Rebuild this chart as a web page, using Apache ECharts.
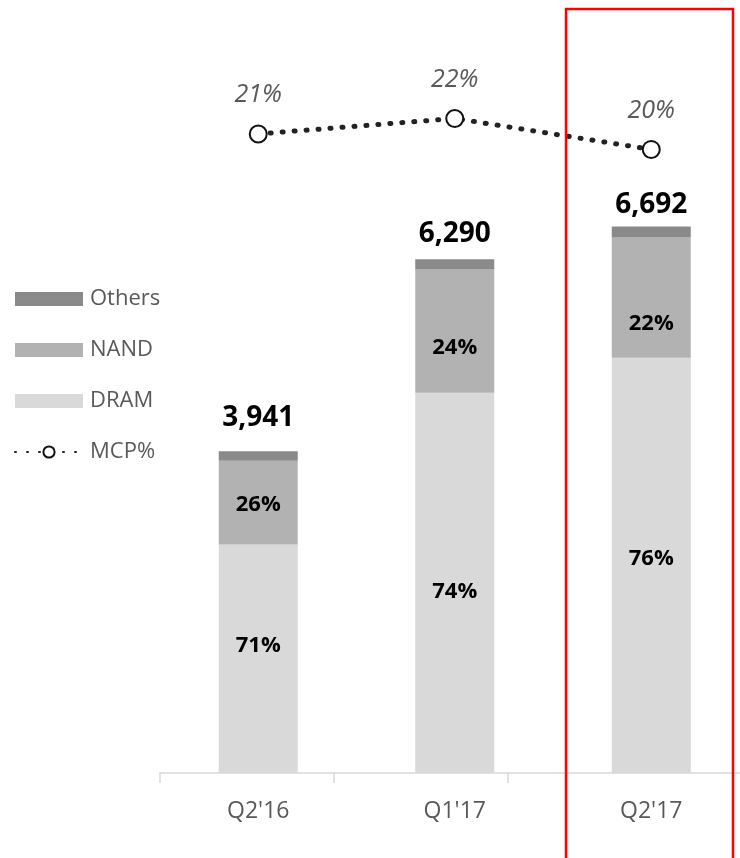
<!DOCTYPE html>
<html>
<head>
<meta charset="utf-8">
<script src="https://cdn.jsdelivr.net/npm/echarts@6/dist/echarts.min.js"></script>
<style>
html,body{margin:0;padding:0;background:#fff;}
#c{width:740px;height:858px;}
</style>
</head>
<body>
<div id="c"></div>
<script>
var categories = ["Q2'16", "Q1'17", "Q2'17"];
var dram = [2798, 4655, 5086];
var nand = [1025, 1510, 1472];
var others = [118, 125, 134];
var mcpShare = [21, 22, 20];

var totals = categories.map(function (c, i) { return dram[i] + nand[i] + others[i]; });
var font = "'Open Sans', 'Noto Sans', sans-serif";

var chart = echarts.init(document.getElementById('c'));
function pct(v, i) { return Math.round(v / totals[i] * 100) + '%'; }
var dramOffsets = [[0, -13], [0, 9], [0, -7]];
var nandOffsets = [[0, 2], [0, 17], [0, 26]];
var totalOffsets = [[0, -8], [0, 0], [0, 4]];

chart.setOption({
  animation: false,
  textStyle: { fontFamily: font },
  grid: { left: 160, top: 38, bottom: 85, width: 589.5, outerBoundsMode: 'none', containLabel: false },
  legend: {
    orient: 'vertical', left: 14, top: 288, padding: 0,
    itemWidth: 68, itemHeight: 14, itemGap: 29,
    data: [
      { name: 'Others', icon: 'rect' },
      { name: 'NAND', icon: 'rect' },
      { name: 'DRAM', icon: 'rect' },
      { name: 'MCP%' }
    ],
    textStyle: { fontFamily: font, fontSize: 22, color: '#595959', padding: [0, 0, 0, 2] }
  },
  xAxis: [{
    type: 'category', data: categories, position: 'bottom',
    axisLine: { lineStyle: { color: '#d9d9d9', width: 1.5 } },
    axisTick: { show: false },
    axisLabel: { fontFamily: font, fontSize: 23, color: '#595959', margin: 27 }
  }, {
    type: 'value', position: 'bottom', min: 0, max: 589.5 / 174, interval: 1,
    axisLine: { show: false, onZero: false },
    axisLabel: { show: false },
    splitLine: { show: false },
    axisTick: { show: true, length: 10, customValues: [0, 1, 2], lineStyle: { color: '#d9d9d9', width: 1.5 } }
  }],
  yAxis: [
    { type: 'value', min: 0, max: 9000, show: false, splitLine: { show: false } },
    { type: 'value', min: -20.3, max: 27.2, show: false, splitLine: { show: false } }
  ],
  series: [{
    name: 'DRAM', type: 'bar', stack: 'a', barWidth: 79,
    itemStyle: { color: '#d9d9d9' },
    data: dram.map(function (v, i) {
      return { value: v, label: { offset: dramOffsets[i] } };
    }),
    label: {
      show: true, position: 'inside', fontFamily: font, fontWeight: 'bold', fontSize: 22, color: '#000',
      formatter: function (p) { return pct(p.value, p.dataIndex); }
    }
  }, {
    name: 'NAND', type: 'bar', stack: 'a', barWidth: 79,
    itemStyle: { color: '#b2b2b2' },
    data: nand.map(function (v, i) {
      return { value: v, label: { offset: nandOffsets[i] } };
    }),
    label: {
      show: true, position: 'inside', fontFamily: font, fontWeight: 'bold', fontSize: 22, color: '#000',
      formatter: function (p) { return pct(p.value, p.dataIndex); }
    }
  }, {
    name: 'Others', type: 'bar', stack: 'a', barWidth: 79,
    itemStyle: { color: '#8a8a8a' },
    data: others.map(function (v, i) {
      return { value: v, label: { offset: totalOffsets[i] } };
    }),
    label: {
      show: true, position: 'top', distance: 11, fontFamily: font, fontWeight: 'bold', fontSize: 28, color: '#000',
      formatter: function (p) { return totals[p.dataIndex].toLocaleString('en-US'); }
    }
  }, {
    name: 'MCP%', type: 'line', yAxisIndex: 1,
    data: mcpShare,
    symbol: 'circle', symbolSize: 17,
    itemStyle: { color: '#fff', borderColor: '#111', borderWidth: 2 },
    lineStyle: { color: '#222', width: 5, type: [1, 11], cap: 'round' },
    label: {
      show: true, position: 'top', distance: 17, fontFamily: font, fontStyle: 'italic', fontSize: 25, color: '#595959',
      formatter: function (p) { return p.value + '%'; }
    },
    z: 5
  }],
  graphic: [{
    type: 'rect', z: 100,
    shape: { x: 566, y: 9, width: 167, height: 880 },
    style: { fill: 'none', stroke: '#ff0000', lineWidth: 2.5 }
  }]
});
</script>
</body>
</html>
